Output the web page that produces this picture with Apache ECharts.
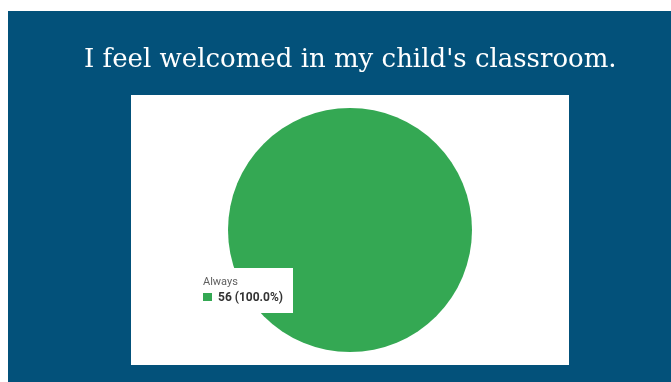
<!DOCTYPE html>
<html>
<head>
<meta charset="utf-8">
<script src="https://cdn.jsdelivr.net/npm/echarts@6/dist/echarts.min.js"></script>
<style>
  html, body { margin: 0; padding: 0; background: #fff; }
  #chart { width: 671px; height: 382px; }
</style>
</head>
<body>
<div id="chart"></div>
<script>
const titleText = "I feel welcomed in my child's classroom."
const categories = ['Always']
const values = [56]
const colors = ['#34a853']

const total = values.reduce((a, b) => a + b, 0)
const chart = echarts.init(document.getElementById('chart'))

chart.setOption({
  backgroundColor: '#fff',
  animation: false,
  graphic: [
    { type: 'rect', shape: { x: 8, y: 11, width: 663, height: 371 }, style: { fill: '#03517a' }, z: -10 },
    { type: 'rect', shape: { x: 131, y: 95, width: 438, height: 270 }, style: { fill: '#fff' }, z: -9 }
  ],
  title: {
    text: titleText,
    left: 79,
    top: 42,
    textStyle: { color: '#fff', fontFamily: 'DejaVu Serif', fontWeight: 'normal', fontSize: 26 }
  },
  tooltip: {
    trigger: 'item',
    triggerOn: 'none',
    alwaysShowContent: true,
    position: [193, 268],
    padding: [6, 10, 7, 10],
    borderWidth: 0,
    borderRadius: 0,
    backgroundColor: '#fff',
    extraCssText: 'box-shadow:none;',
    formatter: p =>
      '<div style="font-family:Roboto;font-size:11px;color:#5f5f5f;line-height:15px">' + p.name + '</div>' +
      '<div style="font-family:Roboto;font-size:12px;font-weight:bold;color:#333;line-height:17px">' +
      '<span style="display:inline-block;width:9px;height:8px;background:' + p.color + ';margin-right:6px;vertical-align:0px"></span>' +
      p.value + ' (' + (p.value / total * 100).toFixed(1) + '%)</div>'
  },
  series: [{
    type: 'pie',
    center: [350, 230],
    radius: 122,
    label: { show: false },
    labelLine: { show: false },
    emphasis: { disabled: true },
    data: categories.map((c, i) => ({ name: c, value: values[i], itemStyle: { color: colors[i] } }))
  }]
})

chart.dispatchAction({ type: 'showTip', seriesIndex: 0, dataIndex: 0 })
</script>
</body>
</html>
